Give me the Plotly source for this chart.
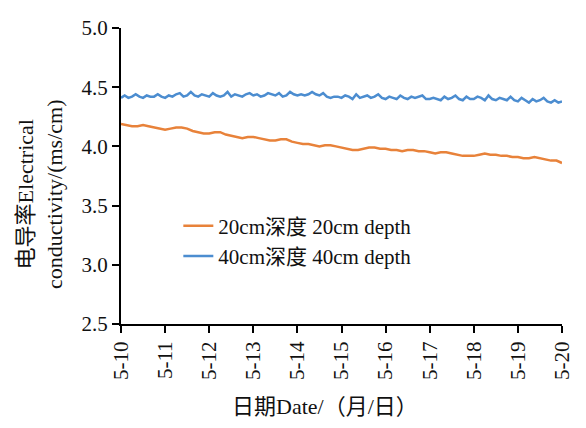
import plotly.graph_objects as go

tick_labels = ["5-10", "5-11", "5-12", "5-13", "5-14", "5-15", "5-16", "5-17", "5-18", "5-19", "5-20"]

# 40 cm depth, 12 samples per day
ec_40 = [
    4.41, 4.43, 4.41, 4.42, 4.44, 4.42, 4.41, 4.43, 4.42, 4.42, 4.44, 4.42,
    4.41, 4.43, 4.42, 4.44, 4.45, 4.42, 4.43, 4.46, 4.43, 4.42, 4.44, 4.43,
    4.42, 4.45, 4.43, 4.42, 4.43, 4.46, 4.42, 4.44, 4.43, 4.42, 4.44, 4.45,
    4.43, 4.44, 4.42, 4.43, 4.45, 4.44, 4.43, 4.45, 4.42, 4.43, 4.46, 4.44,
    4.43, 4.44, 4.43, 4.44, 4.46, 4.44, 4.43, 4.45, 4.42, 4.41, 4.42, 4.42,
    4.41, 4.43, 4.42, 4.40, 4.44, 4.41, 4.42, 4.43, 4.41, 4.42, 4.44, 4.41,
    4.40, 4.42, 4.41, 4.40, 4.43, 4.41, 4.40, 4.42, 4.41, 4.42, 4.43, 4.40,
    4.40, 4.41, 4.40, 4.39, 4.42, 4.40, 4.41, 4.43, 4.40, 4.39, 4.42, 4.40,
    4.40, 4.42, 4.41, 4.39, 4.43, 4.40, 4.39, 4.41, 4.40, 4.39, 4.42, 4.39,
    4.38, 4.41, 4.39, 4.37, 4.40, 4.38, 4.39, 4.41, 4.38, 4.37, 4.39, 4.37,
    4.38,
]

# 20 cm depth, 8 samples per day
ec_20 = [
    4.19, 4.18, 4.17, 4.17, 4.18, 4.17, 4.16, 4.15,
    4.14, 4.15, 4.16, 4.16, 4.15, 4.13, 4.12, 4.11,
    4.11, 4.12, 4.12, 4.10, 4.09, 4.08, 4.07, 4.08,
    4.08, 4.07, 4.06, 4.05, 4.05, 4.06, 4.06, 4.04,
    4.03, 4.02, 4.02, 4.01, 4.00, 4.01, 4.01, 4.00,
    3.99, 3.98, 3.97, 3.97, 3.98, 3.99, 3.99, 3.98,
    3.98, 3.97, 3.97, 3.96, 3.97, 3.97, 3.96, 3.96,
    3.95, 3.94, 3.95, 3.95, 3.94, 3.93, 3.92, 3.92,
    3.92, 3.93, 3.94, 3.93, 3.93, 3.92, 3.92, 3.91,
    3.91, 3.90, 3.90, 3.91, 3.90, 3.89, 3.88, 3.88,
    3.86,
]

days_40 = [i / 12 for i in range(len(ec_40))]
days_20 = [i / 8 for i in range(len(ec_20))]

font_fam = "Liberation Serif, Noto Sans CJK SC, serif"

fig = go.Figure()
fig.add_trace(go.Scatter(x=days_20, y=ec_20, mode="lines", name="20cm深度 20cm depth",
                         line=dict(color="#E8823A", width=2.5)))
fig.add_trace(go.Scatter(x=days_40, y=ec_40, mode="lines", name="40cm深度 40cm depth",
                         line=dict(color="#4C8DD0", width=2.5)))

fig.update_layout(
    width=586, height=428,
    margin=dict(l=121, r=13, t=28, b=104),
    paper_bgcolor="white", plot_bgcolor="white",
    font=dict(family=font_fam, size=21, color="#111"),
    showlegend=True,
    legend=dict(x=0.13, y=0.40, xanchor="left", yanchor="top",
                bgcolor="rgba(0,0,0,0)", font=dict(size=21),
                tracegroupgap=0),
    xaxis=dict(
        range=[0, 10], tickvals=list(range(11)), ticktext=tick_labels,
        tickangle=-90, showline=True, linecolor="black", linewidth=2,
        ticks="outside", tickcolor="black", tickwidth=2, ticklen=7,
        showgrid=False, zeroline=False, tickfont=dict(size=21),
    ),
    yaxis=dict(
        range=[2.5, 5.0], dtick=0.5, tick0=2.5, tickformat=".1f",
        showline=True, linecolor="black", linewidth=2,
        ticks="outside", tickcolor="black", tickwidth=2, ticklen=7,
        showgrid=False, zeroline=False, tickfont=dict(size=21),
    ),
    annotations=[
        dict(text="日期Date/（月/日）", xref="paper", yref="paper",
             x=0.462, y=-0.28, xanchor="center", yanchor="middle",
             showarrow=False, font=dict(size=22)),
        dict(text="电导率Electrical<br>conductivity/(ms/cm)", xref="paper", yref="paper",
             x=0, y=0.436, xanchor="center", yanchor="middle", xshift=-81,
             textangle=-90, showarrow=False, font=dict(size=22)),
    ],
)

fig.write_html("out.html")
